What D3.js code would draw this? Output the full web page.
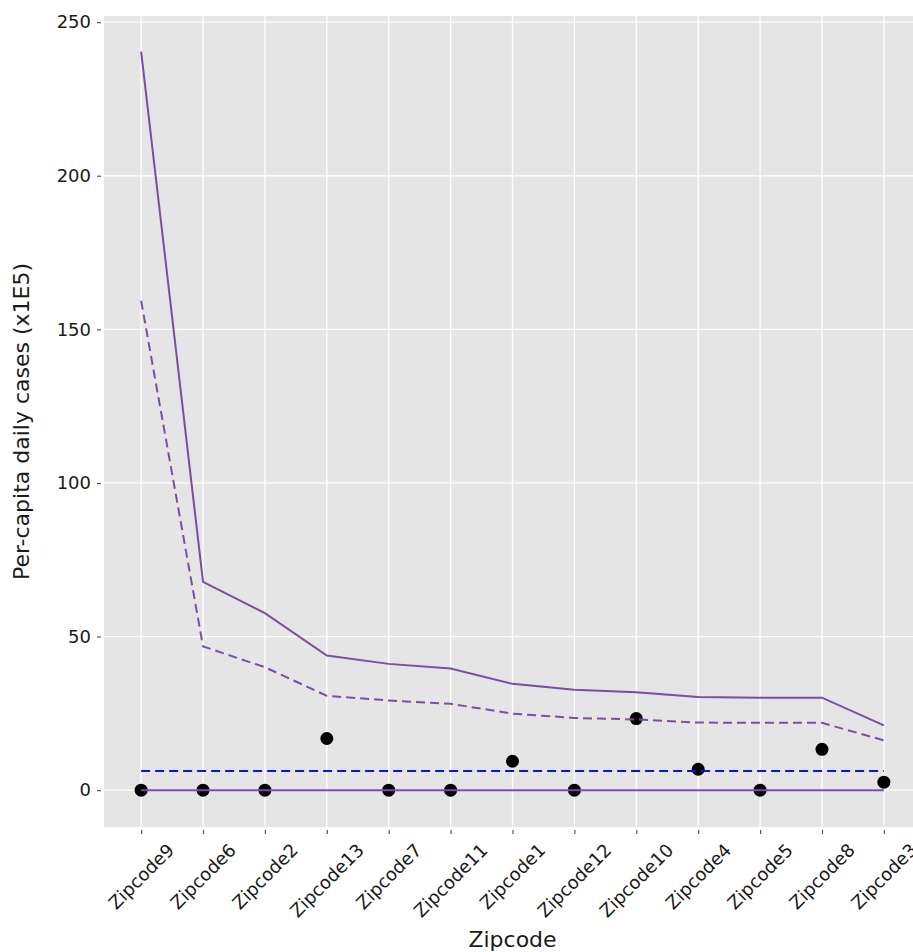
<!DOCTYPE html>
<html>
<head>
<meta charset="utf-8">
<script src="https://cdn.jsdelivr.net/npm/d3@7"></script>
<style>
  html, body { margin: 0; padding: 0; background: #fff; }
  svg { display: block; }
  text { font-family: "DejaVu Sans", sans-serif; fill: #1a1a1a; }
</style>
</head>
<body>
<svg id="chart" width="913" height="952"></svg>
<script>
const categories = ["Zipcode9","Zipcode6","Zipcode2","Zipcode13","Zipcode7","Zipcode11","Zipcode1","Zipcode12","Zipcode10","Zipcode4","Zipcode5","Zipcode8","Zipcode3"];
const upperSolid = [240.4, 67.8, 57.6, 43.8, 41.1, 39.6, 34.6, 32.7, 31.9, 30.3, 30.1, 30.1, 21.1];
const upperDashed = [159.3, 46.8, 40.0, 30.7, 29.2, 28.1, 24.9, 23.5, 23.0, 22.0, 21.9, 21.9, 16.2];
const lowerSolid = [0,0,0,0,0,0,0,0,0,0,0,0,0];
const meanLine = [6.2,6.2,6.2,6.2,6.2,6.2,6.2,6.2,6.2,6.2,6.2,6.2,6.2];
const observed = [0, 0, 0, 16.8, 0, 0, 9.4, 0, 23.3, 6.8, 0, 13.3, 2.6];
const yTicks = [0, 50, 100, 150, 200, 250];
const xLabel = "Zipcode";
const yLabel = "Per-capita daily cases (x1E5)";

(function () {
const svg = d3.select("#chart");
const pL = 104, pR = 921, pT = 16, pB = 827;

const n = categories.length;
const x = d3.scaleLinear().domain([-0.6, n - 1 + 0.6]).range([pL, pR]);
const y = d3.scaleLinear().domain([-12, 252]).range([pB, pT]);

svg.append("defs").append("clipPath").attr("id", "clip")
  .append("rect").attr("x", pL).attr("y", pT).attr("width", pR - pL).attr("height", pB - pT);

// background
svg.append("rect").attr("x", pL).attr("y", pT).attr("width", pR - pL).attr("height", pB - pT).attr("fill", "#e5e5e5");

const grid = svg.append("g").attr("clip-path", "url(#clip)");
grid.selectAll("line.gx").data(categories).enter().append("line")
  .attr("x1", (d, i) => x(i)).attr("x2", (d, i) => x(i))
  .attr("y1", pT).attr("y2", pB)
  .attr("stroke", "#fff").attr("stroke-width", 1.3);
grid.selectAll("line.gy").data(yTicks).enter().append("line")
  .attr("x1", pL).attr("x2", pR)
  .attr("y1", d => y(d)).attr("y2", d => y(d))
  .attr("stroke", "#fff").attr("stroke-width", 1.3);

// Y axis
const yAxis = d3.axisLeft(y).tickValues(yTicks).tickSize(4).tickPadding(6);
const gy = svg.append("g").attr("transform", `translate(${pL - 3},0)`).call(yAxis);
gy.select(".domain").remove();
gy.selectAll(".tick line").attr("stroke", "#555").attr("stroke-width", 1.2);
gy.selectAll(".tick text").attr("font-size", 18).attr("fill", "#1a1a1a").style("font-family", "DejaVu Sans");

// X axis ticks
const xAxis = d3.axisBottom(x).tickValues(d3.range(n)).tickSize(4).tickFormat("");
const gx = svg.append("g").attr("transform", `translate(0,${pB + 3})`).call(xAxis);
gx.select(".domain").remove();
gx.selectAll(".tick line").attr("stroke", "#555").attr("stroke-width", 1.2);

// rotated x tick labels (center-aligned bounding box like matplotlib)
const labTop = 840;
const xl = svg.append("g");
categories.forEach((c, i) => {
  const t = xl.append("text").text(c).attr("font-size", 18)
    .attr("text-anchor", "middle").attr("dominant-baseline", "central");
  const w = t.node().getComputedTextLength();
  const h = 18 * 1.05;
  const half = (w + h) / (2 * Math.SQRT2);
  const cx = x(i), cy = labTop + half;
  t.attr("x", cx).attr("y", cy).attr("transform", `rotate(-45,${cx},${cy})`);
});

const plot = svg.append("g").attr("clip-path", "url(#clip)");

// points
plot.selectAll("circle").data(observed).enter().append("circle")
  .attr("cx", (d, i) => x(i)).attr("cy", d => y(d)).attr("r", 6.5).attr("fill", "#000");

const line = d3.line().x((d, i) => x(i)).y(d => y(d));
const purple = "#7a4ea6";
plot.append("path").datum(upperSolid).attr("d", line).attr("fill", "none")
  .attr("stroke", purple).attr("stroke-width", 2);
plot.append("path").datum(upperDashed).attr("d", line).attr("fill", "none")
  .attr("stroke", purple).attr("stroke-width", 2).attr("stroke-dasharray", "9,5");
plot.append("path").datum(lowerSolid).attr("d", line).attr("fill", "none")
  .attr("stroke", purple).attr("stroke-width", 2);
plot.append("path").datum(meanLine).attr("d", line).attr("fill", "none")
  .attr("stroke", "#0019d6").attr("stroke-width", 2).attr("stroke-dasharray", "9,5");

// axis labels
svg.append("text").text(xLabel).attr("x", (pL + pR) / 2).attr("y", 947)
  .attr("text-anchor", "middle").attr("font-size", 22);
svg.append("text").text(yLabel)
  .attr("transform", `translate(29,${(pT + pB) / 2}) rotate(-90)`)
  .attr("text-anchor", "middle").attr("font-size", 22);
})();
</script>
</body>
</html>
